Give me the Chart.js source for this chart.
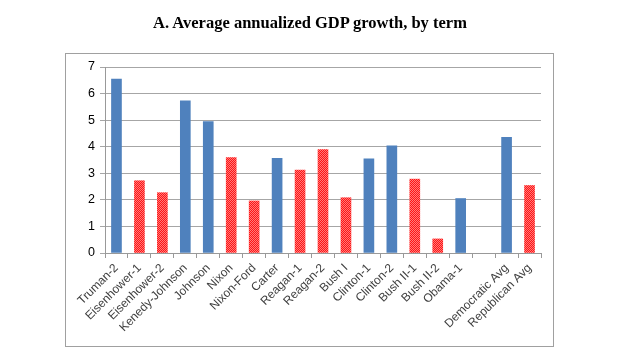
<!DOCTYPE html>
<html><head><meta charset="utf-8">
<script src="https://cdn.jsdelivr.net/npm/chart.js@4/dist/chart.umd.min.js"></script>
<style>
html,body{margin:0;padding:0;background:#fff;}
#wrap{position:relative;width:620px;height:350px;}
#title{position:absolute;left:0;top:14px;width:620px;text-align:center;font:bold 16.5px "Liberation Serif","Times New Roman",serif;color:#000;line-height:18px;}
canvas{position:absolute;left:0;top:0;}
</style></head>
<body><div id="wrap"><canvas id="c" width="620" height="350"></canvas><div id="title">A. Average annualized GDP growth, by term</div></div>
<script>
const categories = ["Truman-2","Eisenhower-1","Eisenhower-2","Kenedy-Johnson","Johnson","Nixon","Nixon-Ford","Carter","Reagan-1","Reagan-2","Bush I","Clinton-1","Clinton-2","Bush II-1","Bush II-2","Obama-1","","Democratic Avg","Republican Avg"];
const demValues = [6.55,null,null,5.73,4.95,null,null,3.56,null,null,null,3.54,4.03,null,null,2.05,null,4.35,null];
const repValues = [null,2.72,2.27,null,null,3.59,1.96,null,3.12,3.89,2.08,null,null,2.78,0.53,null,null,null,2.54];
const yTicks = [0,1,2,3,4,5,6,7];

function makePattern(){
  const p=document.createElement('canvas');p.width=2;p.height=2;
  const g=p.getContext('2d');
  g.fillStyle='#ff1414';g.fillRect(0,0,2,2);
  g.fillStyle='#ff7a7a';g.fillRect(0,0,1,1);g.fillRect(1,1,1,1);
  return document.getElementById('c').getContext('2d').createPattern(p,'repeat');
}
const frame={id:'frame',beforeDraw(ch){const c=ch.ctx;c.save();c.strokeStyle='#a0a0a0';c.lineWidth=1;c.strokeRect(65.5,53.5,488,293);c.restore();}};
new Chart(document.getElementById('c'),{
  type:'bar',
  data:{labels:categories,datasets:[
    {label:'Democratic',data:demValues,backgroundColor:'#4f81bd',barThickness:10,grouped:false},
    {label:'Republican',data:repValues,backgroundColor:makePattern(),barThickness:10,grouped:false}
  ]},
  options:{responsive:false,animation:false,devicePixelRatio:1,
    layout:{padding:{left:65,right:79,top:67,bottom:0}},
    plugins:{legend:{display:false},tooltip:{enabled:false},title:{display:false}},
    scales:{
      x:{grid:{display:true,drawOnChartArea:false,drawTicks:true,tickLength:5,color:'#999'},border:{color:'#999'},
        ticks:{minRotation:45,maxRotation:45,autoSkip:false,color:'#404040',font:{family:'"Liberation Sans",Arial,sans-serif',size:12}},
        afterFit(s){s.height=97;}},
      y:{min:0,max:7,afterBuildTicks(s){s.ticks=yTicks.map(v=>({value:v}));},
        grid:{color:'#a6a6a6',tickLength:5},border:{color:'#999'},
        ticks:{padding:5,color:'#000',font:{family:'"Liberation Sans",Arial,sans-serif',size:12.5}},
        afterFit(s){s.width=40;}}
    }
  },plugins:[frame]
});
</script></body></html>
